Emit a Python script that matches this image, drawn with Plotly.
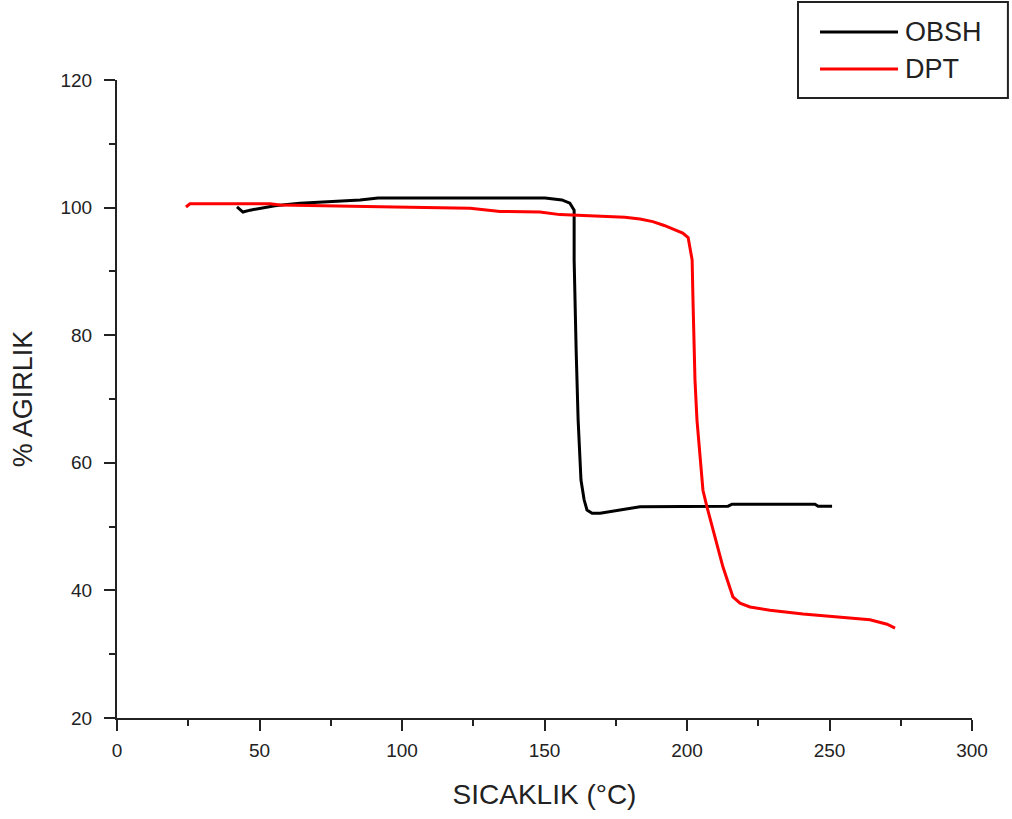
import plotly.graph_objects as go

# OBSH (black) TGA curve
obsh_t = [42.1, 44.2, 46.7, 50.2, 55.4, 64.2, 74.7, 85.3, 91.6, 150.2, 156.1, 158.9, 160.4,
          160.4, 161.1, 161.8, 162.8, 163.9, 164.9, 166.7, 169.5, 176.5, 183.5, 214.4, 215.8,
          244.9, 246.0, 250.9]
obsh_w = [100.1, 99.3, 99.6, 99.9, 100.3, 100.7, 101.0, 101.2, 101.5, 101.5, 101.2, 100.7, 99.6,
          91.8, 77.7, 66.7, 57.3, 54.2, 52.6, 52.1, 52.1, 52.6, 53.1, 53.2, 53.5,
          53.5, 53.2, 53.2]

# DPT (red) TGA curve
dpt_t = [24.2, 25.6, 53.7, 57.2, 97.5, 123.9, 134.4, 148.4, 155.4, 170.0, 178.2, 183.5, 188.0,
         192.0, 195.5, 198.5, 200.4, 201.8, 202.1, 202.8, 203.5, 204.6, 205.6, 207.0, 209.1,
         212.6, 216.1, 218.6, 222.1, 229.1, 240.7, 252.6, 264.2, 270.2, 273.0]
dpt_w = [100.1, 100.6, 100.6, 100.4, 100.1, 99.9, 99.4, 99.3, 98.9, 98.7, 98.5, 98.2, 97.8,
         97.2, 96.6, 96.0, 95.3, 91.8, 85.5, 73.0, 66.7, 60.4, 55.7, 53.1, 49.5,
         43.7, 39.0, 38.0, 37.4, 36.9, 36.3, 35.8, 35.4, 34.7, 34.1]

series_names = ["OBSH", "DPT"]
series_colors = ["#000000", "#ff0000"]

x_ticks = [0, 50, 100, 150, 200, 250, 300]
y_ticks = [20, 40, 60, 80, 100, 120]

fig = go.Figure()
for t, w, name, col in zip([obsh_t, dpt_t], [obsh_w, dpt_w], series_names, series_colors):
    fig.add_trace(go.Scatter(x=t, y=w, mode="lines", name=name, showlegend=False,
                             line=dict(color=col, width=3)))

font_family = "Liberation Sans, Arial, sans-serif"

fig.update_layout(
    width=1012, height=819,
    margin=dict(l=117, r=40, t=80, b=101),
    paper_bgcolor="white", plot_bgcolor="white",
    font=dict(family=font_family, color="#222222"),
    xaxis=dict(range=[0, 300], tickvals=x_ticks, ticks="outside", ticklen=11, tickwidth=2,
               tickcolor="#222", showline=True, linecolor="#222", linewidth=2,
               showgrid=False, zeroline=False, tickfont=dict(size=19), ticklabelstandoff=3,
               minor=dict(dtick=25, tick0=0, ticks="outside", ticklen=6, tickwidth=2, tickcolor="#222"),
               title=dict(text="SICAKLIK (°C)", font=dict(size=28), standoff=25)),
    yaxis=dict(range=[20, 120], tickvals=y_ticks, ticks="outside", ticklen=11, tickwidth=2,
               tickcolor="#222", showline=True, linecolor="#222", linewidth=2,
               showgrid=False, zeroline=False, tickfont=dict(size=19), ticklabelstandoff=8,
               minor=dict(dtick=10, tick0=0, ticks="outside", ticklen=6, tickwidth=2, tickcolor="#222"),
               title=dict(text="% AGIRLIK", font=dict(size=27), standoff=20)),
)

# Manual legend box (long line samples, as in the original)
lx0, lx1, ly0, ly1 = 0.7965, 1.042, 0.9718, 1.1223
fig.add_shape(type="rect", xref="paper", yref="paper", x0=lx0, x1=lx1, y0=ly0, y1=ly1,
              line=dict(color="#222", width=2), fillcolor="white", layer="above")
rows_y = [(718 - 32) / 638, (718 - 69) / 638]
for name, col, yy in zip(series_names, series_colors, rows_y):
    fig.add_shape(type="line", xref="paper", yref="paper",
                  x0=(820 - 117) / 855, x1=(898 - 117) / 855, y0=yy, y1=yy,
                  line=dict(color=col, width=3))
    fig.add_annotation(xref="paper", yref="paper", x=(903 - 117) / 855, y=yy,
                       xanchor="left", yanchor="middle", text=name, showarrow=False,
                       font=dict(size=27, color="#222", family=font_family))

fig.write_html("out.html", config={"displayModeBar": False},
               post_script="document.body.style.margin='0';document.body.style.overflow='hidden';")
